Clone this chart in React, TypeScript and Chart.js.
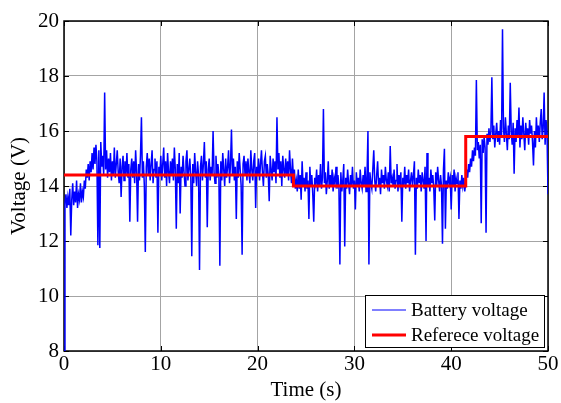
import React, { useEffect, useRef } from 'react';
import { Chart, registerables } from 'chart.js';

Chart.register(...registerables);

// ---- data ----
const xTickValues = [0, 10, 20, 30, 40, 50];
const yTickValues = [8, 10, 12, 14, 16, 18, 20];
const xTitle = 'Time (s)';
const yTitle = 'Voltage (V)';
const seriesNames = ['Battery voltage', 'Referece voltage'];

// battery voltage sampled every 0.1 s, from t = 0 to t = 50 (one row per second)
const sampleStep = 0.1;
const batteryVoltage = [
  8.0, 13.4, 13.7, 13.2, 13.6, 13.3, 13.9, 12.2, 13.5, 14.1,
  13.3, 13.8, 13.4, 14.2, 13.2, 13.7, 13.5, 14.1, 13.4, 13.8,
  13.6, 14.2, 13.9, 14.6, 14.3, 14.8, 14.2, 14.9, 14.5, 15.2,
  14.6, 15.4, 14.8, 15.5, 14.9, 11.85, 15.3, 11.75, 15.6, 14.7,
  15.1, 14.4, 17.4, 14.6, 15.3, 14.3, 15.0, 14.5, 15.2, 14.2,
  14.9, 14.4, 15.4, 14.3, 14.8, 15.3, 14.5, 14.1, 15.0, 13.6,
  14.7, 15.1, 14.2, 14.9, 14.4, 15.2, 14.3, 14.8, 12.7, 14.6,
  15.0, 14.3, 14.9, 14.1, 15.3, 14.5, 12.7, 14.8, 14.2, 15.1,
  16.5, 14.3, 14.9, 14.0, 11.6, 14.7, 15.2, 14.4, 15.0, 14.2,
  14.8, 15.3, 14.1, 14.6, 15.0, 14.3, 14.9, 12.3, 14.7, 14.4,
  15.1, 14.2, 14.8, 15.4, 14.3, 14.9, 14.0, 15.2, 14.5, 14.1,
  14.9, 14.4, 15.0, 14.2, 15.4, 14.6, 12.45, 14.8, 14.1, 15.2,
  13.0, 14.7, 14.3, 15.1, 14.5, 14.0, 14.9, 15.3, 14.2, 14.6,
  15.0, 14.3, 11.45, 14.8, 14.1, 15.2, 14.5, 14.0, 14.9, 14.4,
  10.95, 14.7, 15.1, 14.2, 14.8, 15.6, 14.3, 14.9, 12.5, 14.6,
  15.0, 14.2, 14.7, 14.4, 16.0, 14.5, 14.1, 15.1, 14.3, 14.8,
  14.4, 11.1, 14.9, 14.2, 15.2, 14.6, 14.0, 15.0, 14.3, 14.7,
  15.3, 14.1, 14.8, 16.05, 14.4, 15.0, 14.2, 14.7, 12.8, 14.9,
  14.3, 15.2, 14.6, 14.0, 11.5, 14.8, 15.1, 14.4, 14.9, 14.2,
  15.0, 14.5, 14.1, 15.3, 14.6, 14.2, 14.9, 15.2, 13.2, 14.7,
  14.4, 15.0, 14.2, 14.8, 15.3, 14.5, 14.0, 14.9, 15.1, 14.3,
  14.8, 14.4, 13.45, 15.1, 14.6, 14.2, 15.0, 14.5, 14.9, 14.1,
  16.5, 14.6, 15.2, 14.3, 14.9, 14.0, 15.1, 14.6, 14.3, 15.0,
  14.4, 14.9, 14.2, 15.3, 14.6, 14.1, 15.0, 14.3, 14.6, 13.9,
  14.2, 13.8, 14.6, 13.9, 14.4, 13.5, 14.9, 14.0, 14.3, 13.8,
  14.5, 13.9, 14.2, 12.8, 14.7, 14.0, 14.4, 13.7, 12.7, 14.3,
  14.1, 14.6, 13.8, 14.4, 14.0, 14.8, 13.9, 14.3, 16.8, 14.1,
  14.5, 13.7, 14.2, 14.9, 13.9, 14.4, 14.0, 14.6, 13.8, 14.3,
  14.1, 14.7, 13.9, 14.4, 14.0, 11.15, 14.5, 13.8, 14.2, 14.8,
  11.8, 14.3, 13.9, 14.6, 14.1, 13.7, 14.4, 14.0, 14.7, 13.9,
  14.2, 13.15, 14.5, 14.0, 14.3, 13.8, 14.6, 14.1, 13.9, 14.4,
  14.0, 14.7, 13.8, 14.3, 16.0, 11.15, 14.5, 14.1, 13.9, 14.6,
  15.3, 14.2, 13.8, 14.4, 14.9, 14.0, 14.3, 13.7, 14.6, 14.1,
  14.4, 13.9, 14.7, 14.2, 14.0, 14.5, 13.8, 15.45, 14.1, 14.3,
  14.0, 14.6, 13.9, 14.2, 14.8, 13.8, 14.4, 14.1, 14.5, 12.7,
  14.3, 14.0, 14.7, 13.9, 14.4, 14.1, 14.6, 13.8, 14.2, 14.5,
  14.0, 14.4, 14.9, 11.5, 14.3, 13.9, 14.6, 14.1, 14.4, 13.8,
  14.5, 14.2, 13.9, 14.7, 12.0, 15.2, 14.0, 14.3, 13.8, 14.6,
  14.1, 14.4, 13.9, 12.75, 14.5, 14.0, 14.7, 14.2, 13.8, 14.4,
  14.0, 11.9, 14.6, 15.35, 12.45, 14.2, 13.9, 14.5, 14.1, 14.3,
  13.15, 14.4, 14.0, 14.6, 13.8, 14.3, 14.1, 14.5, 12.8, 14.2,
  13.9, 14.4, 14.0, 14.3, 13.8, 14.1, 14.6, 14.3, 14.8, 14.5,
  15.0, 14.7, 15.3, 14.9, 15.4, 15.1, 17.85, 15.3, 15.6, 15.0,
  15.5, 12.65, 15.7, 15.2, 15.8, 15.4, 12.3, 15.9, 15.5, 16.1,
  15.6, 16.0, 17.95, 15.7, 16.2, 15.4, 15.9, 16.3, 15.6, 16.0,
  15.5, 16.4, 15.8, 19.7, 16.1, 15.6, 16.5, 15.9, 15.3, 16.2,
  15.7, 17.75, 16.0, 15.5, 16.3, 14.45, 16.1, 15.6, 16.4, 15.8,
  16.85, 15.4, 16.2, 15.7, 16.5, 15.9, 15.3, 16.3, 15.8, 16.1,
  15.5, 16.4, 15.9, 16.2, 15.6, 14.75, 16.0, 15.4, 16.5, 15.8,
  16.2, 15.6, 16.3, 16.8, 15.7, 16.1, 17.4, 15.5, 16.4, 15.9,
  13.7,
];

// reference voltage (step profile)
const refTimes = [0, 23.7, 23.7, 41.5, 41.5, 50];
const refVoltage = [14.4, 14.4, 14.0, 14.0, 15.8, 15.8];

const FONT_FAMILY = "'Liberation Serif', 'Times New Roman', serif";

const framePlugin = {
  id: 'matlabFrame',
  beforeDatasetsDraw(chart: any) {
    const { ctx, chartArea: a, scales } = chart;
    ctx.save();
    ctx.strokeStyle = '#000';
    ctx.lineWidth = 1.5;
    ctx.strokeRect(a.left, a.top, a.right - a.left, a.bottom - a.top);
    ctx.lineWidth = 1;
    const tl = 5;
    ctx.beginPath();
    for (const v of xTickValues) {
      const px = Math.round(scales.x.getPixelForValue(v)) + 0.5;
      ctx.moveTo(px, a.bottom);
      ctx.lineTo(px, a.bottom - tl);
      ctx.moveTo(px, a.top);
      ctx.lineTo(px, a.top + tl);
    }
    for (const v of yTickValues) {
      const py = Math.round(scales.y.getPixelForValue(v)) + 0.5;
      ctx.moveTo(a.left, py);
      ctx.lineTo(a.left + tl, py);
      ctx.moveTo(a.right, py);
      ctx.lineTo(a.right - tl, py);
    }
    ctx.stroke();
    ctx.restore();
  },
};

const legendPlugin = {
  id: 'boxLegend',
  afterDraw(chart: any) {
    const { ctx, chartArea: a } = chart;
    const w = 179;
    const h = 52;
    const right = a.right - 4;
    const bottom = a.bottom - 4;
    const left = right - w;
    const top = bottom - h;
    ctx.save();
    ctx.fillStyle = '#fff';
    ctx.fillRect(left, top, w, h);
    ctx.strokeStyle = '#000';
    ctx.lineWidth = 1;
    ctx.strokeRect(Math.round(left) + 0.5, Math.round(top) + 0.5, w, h);
    const ds = chart.data.datasets;
    const rows = [top + 15, top + 40];
    ds.forEach((d: any, i: number) => {
      const y = rows[i];
      ctx.strokeStyle = d.borderColor;
      ctx.lineWidth = i === 0 ? 1 : d.borderWidth;
      ctx.beginPath();
      ctx.moveTo(left + 7, y);
      ctx.lineTo(left + 41, y);
      ctx.stroke();
      ctx.fillStyle = '#000';
      ctx.font = `19px ${FONT_FAMILY}`;
      ctx.textBaseline = 'middle';
      ctx.textAlign = 'left';
      ctx.fillText(d.label, left + 46, y + 1);
    });
    ctx.restore();
  },
};

export default function App() {
  const canvasRef = useRef<HTMLCanvasElement | null>(null);

  useEffect(() => {
    document.body.style.margin = '0';
    const canvas = canvasRef.current;
    if (!canvas) return;
    const font = { family: FONT_FAMILY, size: 21 };
    const chart = new Chart(canvas, {
      type: 'line',
      data: {
        datasets: [
          {
            label: seriesNames[0],
            data: batteryVoltage.map((v, i) => ({ x: i * sampleStep, y: v })),
            borderColor: '#0000ff',
            borderWidth: 1.5,
            pointRadius: 0,
            pointHoverRadius: 0,
            tension: 0,
            order: 1,
          },
          {
            label: seriesNames[1],
            data: refTimes.map((t, i) => ({ x: t, y: refVoltage[i] })),
            borderColor: '#ff0000',
            borderWidth: 3,
            pointRadius: 0,
            pointHoverRadius: 0,
            tension: 0,
            order: 0,
          },
        ],
      },
      options: {
        animation: false,
        responsive: false,
        devicePixelRatio: 1,
        layout: { padding: { left: 0, top: 21, right: 13, bottom: 0 } },
        plugins: { legend: { display: false }, tooltip: { enabled: false } },
        scales: {
          x: {
            type: 'linear',
            min: xTickValues[0],
            max: xTickValues[xTickValues.length - 1],
            afterFit: (s: any) => {
              s.height = 52;
            },
            ticks: { stepSize: 10, font, color: '#000', padding: 1, maxRotation: 0, autoSkip: false },
            grid: { color: '#a4a4a4', lineWidth: 1, drawTicks: false },
            border: { display: false },
            title: { display: true, text: xTitle, font, color: '#000', padding: { top: 0, bottom: 0 } },
          },
          y: {
            type: 'linear',
            min: yTickValues[0],
            max: yTickValues[yTickValues.length - 1],
            afterFit: (s: any) => {
              s.width = 64;
            },
            ticks: { stepSize: 2, font, color: '#000', padding: 5, autoSkip: false },
            grid: { color: '#a4a4a4', lineWidth: 1, drawTicks: false },
            border: { display: false },
            title: { display: true, text: yTitle, font, color: '#000', padding: { top: 7, bottom: 0 } },
          },
        },
      },
      plugins: [framePlugin, legendPlugin],
    });
    return () => chart.destroy();
  }, []);

  return (
    <div style={{ width: 561, height: 403, position: 'relative' }}>
      <canvas ref={canvasRef} width={561} height={403} style={{ display: 'block' }} />
    </div>
  );
}
